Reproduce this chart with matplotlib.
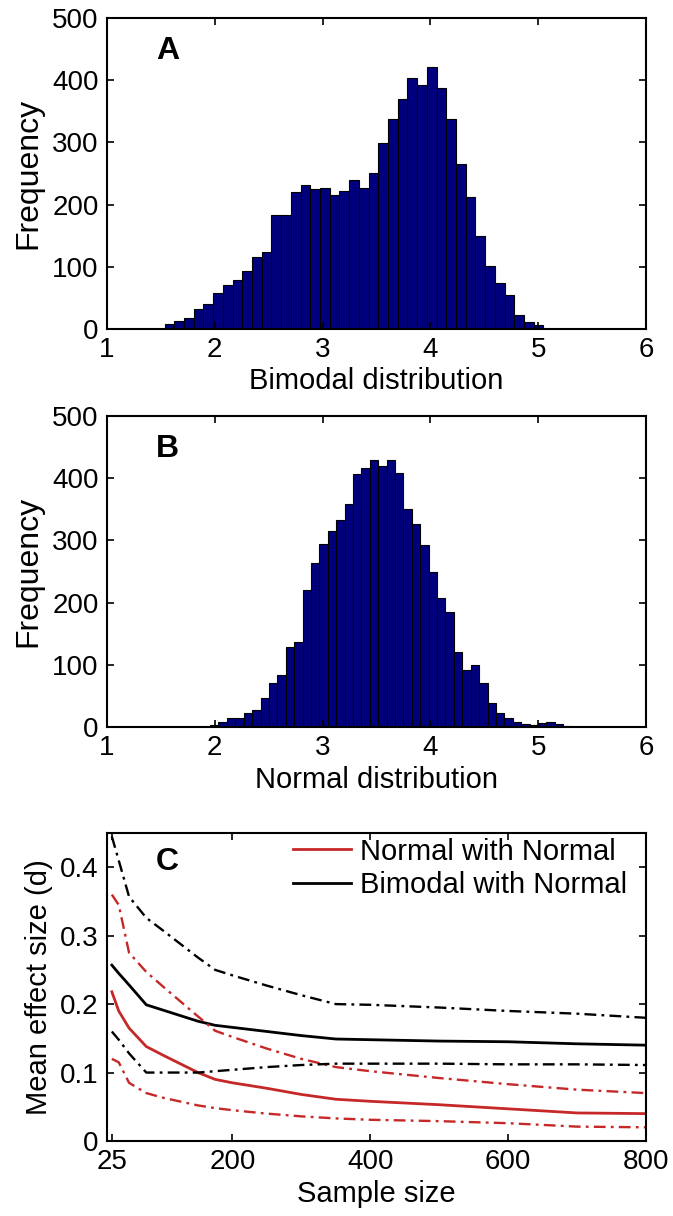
import numpy as np
import matplotlib
matplotlib.use("Agg")
import matplotlib.pyplot as plt

plt.rcParams['font.family'] = ['Liberation Sans', 'DejaVu Sans']

# ---------------- data ----------------
# Panel A: bimodal histogram
bimodal_bin_start = 1.534
bimodal_bin_width = 0.0901
bimodal_counts = [8, 13, 18, 32, 40, 58, 70, 79, 93, 115,
                  124, 184, 184, 220, 232, 225, 227, 215, 222, 239,
                  227, 250, 299, 338, 369, 404, 392, 422, 388, 338,
                  266, 212, 150, 102, 74, 54, 23, 11, 7]

# Panel B: normal histogram
normal_bin_start = 1.956
normal_bin_width = 0.078
normal_counts = [3, 8, 14, 14, 22, 28, 47, 70, 83, 128,
                 137, 220, 263, 294, 315, 332, 358, 406, 416, 430,
                 419, 430, 408, 351, 326, 292, 250, 207, 185, 121,
                 91, 99, 70, 39, 22, 15, 8, 5, 3, 7,
                 8, 5, 2]

hist_xticks = [1, 2, 3, 4, 5, 6]
hist_yticks = [0, 100, 200, 300, 400, 500]

# Panel C: mean effect size vs sample size
sample_size = [25, 35, 50, 75, 100, 150, 175, 200, 250, 300, 350, 400, 500, 600, 700, 800]
bim_upper = [0.445, 0.41, 0.357, 0.326, 0.307, 0.268, 0.25, 0.242, 0.227, 0.213,
             0.20, 0.199, 0.195, 0.19, 0.186, 0.18]
bim_mean = [0.257, 0.245, 0.228, 0.199, 0.191, 0.175, 0.169, 0.166, 0.160, 0.154,
            0.149, 0.148, 0.146, 0.145, 0.142, 0.14]
bim_lower = [0.16, 0.148, 0.128, 0.10, 0.10, 0.10, 0.102, 0.104, 0.108, 0.111,
             0.113, 0.113, 0.113, 0.112, 0.112, 0.111]
norm_upper = [0.36, 0.345, 0.275, 0.247, 0.225, 0.182, 0.161, 0.152, 0.135, 0.12,
              0.108, 0.102, 0.092, 0.083, 0.075, 0.07]
norm_mean = [0.218, 0.19, 0.165, 0.138, 0.125, 0.10, 0.09, 0.085, 0.077, 0.068,
             0.061, 0.058, 0.053, 0.047, 0.041, 0.04]
norm_lower = [0.12, 0.115, 0.085, 0.07, 0.063, 0.052, 0.048, 0.045, 0.04, 0.036,
              0.033, 0.031, 0.029, 0.026, 0.021, 0.02]
c_xticks = [25, 200, 400, 600, 800]
c_yticks = [0, 0.1, 0.2, 0.3, 0.4]

# ---------------- styling ----------------
W, H = 673, 1216
fig = plt.figure(figsize=(W / 100, H / 100), dpi=100)

FS = 21
TFS = 20
NAVY = '#00007f'
RED = '#c62828'
DASHDOT = (0, (5, 2.2, 1.2, 2.2))

def px_axes(left, top, right, bottom):
    return fig.add_axes([left / W, 1 - bottom / H, (right - left) / W, (bottom - top) / H])

def style(ax):
    ax.tick_params(direction='in', length=5, width=1.2, top=True, right=True,
                   labelsize=TFS, pad=6)
    for s in ax.spines.values():
        s.set_linewidth(1.5)

def hist_panel(ax, start, width, counts, xlabel, letter):
    edges = start + width * np.arange(len(counts))
    ax.bar(edges, counts, width=width, align='edge', color=NAVY,
           edgecolor='black', linewidth=0.8)
    ax.set_xlim(1, 6)
    ax.set_ylim(0, 500)
    ax.set_xticks(hist_xticks)
    ax.set_yticks(hist_yticks)
    ax.set_xlabel(xlabel, fontsize=FS, labelpad=3)
    ax.set_ylabel('Frequency', fontsize=23, labelpad=6)
    ax.text(0.112, 0.895, letter, transform=ax.transAxes, fontsize=23,
            fontweight='bold', ha='center', va='center')
    style(ax)

axA = px_axes(107, 18, 646, 329)
hist_panel(axA, bimodal_bin_start, bimodal_bin_width, bimodal_counts,
           'Bimodal distribution', 'A')

axB = px_axes(107, 416, 646, 727)
hist_panel(axB, normal_bin_start, normal_bin_width, normal_counts,
           'Normal distribution', 'B')

axC = px_axes(107, 833, 646, 1141)
axC.plot(sample_size, norm_mean, '-', color=RED, lw=2, label='Normal with Normal')
axC.plot(sample_size, bim_mean, '-', color='black', lw=2, label='Bimodal with Normal')
axC.plot(sample_size, norm_upper, linestyle=DASHDOT, color=RED, lw=1.7)
axC.plot(sample_size, norm_lower, linestyle=DASHDOT, color=RED, lw=1.7)
axC.plot(sample_size, bim_upper, linestyle=DASHDOT, color='black', lw=1.7)
axC.plot(sample_size, bim_lower, linestyle=DASHDOT, color='black', lw=1.7)
axC.set_xlim(18, 800)
axC.set_ylim(0, 0.45)
axC.set_xticks(c_xticks)
axC.set_yticks(c_yticks)
axC.set_yticklabels(['0', '0.1', '0.2', '0.3', '0.4'])
axC.set_xlabel('Sample size', fontsize=FS, labelpad=3)
axC.set_ylabel('Mean effect size (d)', fontsize=FS, labelpad=5)
axC.text(0.112, 0.905, 'C', transform=axC.transAxes, fontsize=23,
         fontweight='bold', ha='center', va='center')
leg = axC.legend(loc='upper left', bbox_to_anchor=(0.345, 0.985), frameon=False,
                 fontsize=FS, handlelength=2.0, handletextpad=0.3,
                 labelspacing=0.2, borderpad=0, borderaxespad=0)
style(axC)

fig.savefig('out.png', dpi=100)
